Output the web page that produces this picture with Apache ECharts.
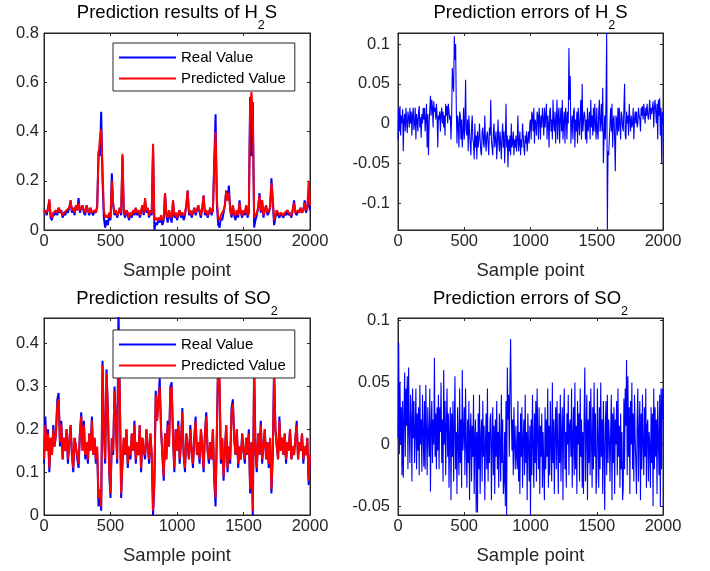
<!DOCTYPE html>
<html>
<head>
<meta charset="utf-8">
<script src="https://cdn.jsdelivr.net/npm/echarts@6/dist/echarts.min.js"></script>
<style>
html,body{margin:0;padding:0;background:#fff;}
#c{width:710px;height:571px;}
</style>
</head>
<body>
<div id="c"></div>
<script>
// ---- data ----
// value series: one value every 10 samples (x = index * 10)
// error series: one value every 5 samples (x = index * 5)
const STEP_VAL = 10;
const STEP_ERR = 5;
const xTicks = [0, 500, 1000, 1500, 2000];

const h2sReal = [
0.07,0.08,0.06,0.09,0.12,0.05,0.04,0.07,0.06,0.08,
0.06,0.09,0.07,0.08,0.05,0.07,0.06,0.08,0.07,0.09,
0.12,0.07,0.09,0.06,0.10,0.08,0.13,0.07,0.09,0.10,
0.07,0.06,0.10,0.08,0.06,0.09,0.07,0.06,0.08,0.07,
0.10,0.32,0.30,0.48,0.20,0.05,0.01,0.04,0.02,0.06,
0.04,0.23,0.10,0.06,0.08,0.05,0.07,0.09,0.06,0.30,
0.07,0.05,0.08,0.06,0.04,0.07,0.05,0.08,0.06,0.09,
0.06,0.08,0.05,0.07,0.10,0.06,0.12,0.07,0.09,0.05,
0.08,0.06,0.34,0.00,0.03,0.02,0.04,0.03,0.05,0.02,
0.04,0.15,0.06,0.03,0.08,0.05,0.03,0.12,0.05,0.07,
0.04,0.06,0.08,0.05,0.07,0.04,0.06,0.10,0.16,0.06,
0.08,0.05,0.07,0.09,0.06,0.08,0.10,0.07,0.05,0.09,
0.14,0.06,0.08,0.05,0.07,0.09,0.06,0.08,0.28,0.47,
0.10,0.02,0.01,0.05,0.04,0.07,0.10,0.16,0.12,0.18,
0.08,0.05,0.10,0.06,0.04,0.08,0.05,0.12,0.07,0.05,
0.08,0.06,0.10,0.05,0.07,0.54,0.30,0.52,0.01,0.04,
0.06,0.09,0.15,0.07,0.12,0.05,0.08,0.10,0.06,0.07,
0.09,0.21,0.12,0.02,0.05,0.08,0.06,0.05,0.07,0.06,
0.05,0.07,0.06,0.08,0.06,0.07,0.05,0.08,0.12,0.07,
0.06,0.08,0.07,0.09,0.07,0.08,0.12,0.07,0.09,0.15,0.08
];
const h2sPred = [
0.08,0.07,0.07,0.08,0.125,0.06,0.05,0.07,0.07,0.08,
0.07,0.09,0.08,0.08,0.06,0.07,0.07,0.08,0.08,0.09,
0.12,0.08,0.09,0.07,0.10,0.08,0.11,0.08,0.09,0.10,
0.08,0.07,0.10,0.08,0.07,0.09,0.07,0.07,0.08,0.07,
0.09,0.30,0.37,0.41,0.25,0.08,0.05,0.06,0.05,0.07,
0.05,0.20,0.11,0.07,0.08,0.06,0.07,0.09,0.07,0.31,
0.08,0.06,0.08,0.07,0.05,0.07,0.06,0.08,0.07,0.09,
0.07,0.08,0.06,0.08,0.10,0.07,0.13,0.08,0.09,0.06,
0.08,0.07,0.35,0.04,0.05,0.04,0.05,0.04,0.06,0.04,
0.05,0.15,0.07,0.05,0.08,0.06,0.05,0.12,0.06,0.07,
0.05,0.07,0.08,0.06,0.07,0.06,0.07,0.10,0.16,0.07,
0.08,0.06,0.07,0.09,0.07,0.08,0.10,0.08,0.06,0.09,
0.14,0.07,0.08,0.06,0.07,0.09,0.07,0.08,0.25,0.40,
0.12,0.05,0.04,0.06,0.06,0.08,0.10,0.16,0.12,0.15,
0.09,0.06,0.10,0.07,0.06,0.08,0.06,0.11,0.07,0.06,
0.08,0.07,0.10,0.06,0.07,0.50,0.56,0.45,0.05,0.06,
0.07,0.09,0.14,0.08,0.12,0.06,0.08,0.10,0.07,0.08,
0.09,0.19,0.13,0.04,0.06,0.08,0.07,0.06,0.07,0.07,
0.06,0.07,0.07,0.08,0.07,0.07,0.06,0.08,0.11,0.07,
0.07,0.08,0.07,0.09,0.07,0.08,0.11,0.08,0.09,0.20,0.10
];
const h2sErr = [
-0.02,0.02,-0.01,0.022,-0.015,0.01,0.0,0.018,-0.035,0.005,0.012,-0.01,0.02,0.003,-0.012,0.015,0.008,-0.005,0.02,0.0,
0.015,-0.015,0.01,0.02,-0.008,0.0,0.02,-0.02,0.012,0.005,-0.01,0.015,0.022,-0.005,0.008,-0.018,0.012,0.0,0.02,0.005,
0.02,-0.01,0.005,0.025,-0.03,0.012,-0.04,0.0,0.018,0.035,0.01,0.03,0.02,-0.005,0.028,0.015,0.02,0.005,0.025,0.01,
-0.03,0.01,0.005,0.015,-0.01,0.012,0.02,0.0,0.015,-0.005,0.01,-0.015,0.025,0.01,0.022,0.0,0.025,0.015,0.005,0.01,
-0.02,0.01,0.07,0.05,0.04,0.11,0.08,0.1,0.02,-0.025,0.01,0.0,-0.03,0.015,0.01,-0.02,0.005,-0.03,-0.01,0.02,
-0.02,0.0,0.055,-0.01,-0.015,0.005,-0.035,0.01,-0.01,-0.025,-0.04,-0.005,0.01,-0.02,-0.025,-0.045,0.0,-0.03,-0.015,-0.045,
-0.01,-0.03,-0.02,0.0,-0.02,-0.035,-0.04,-0.01,-0.005,-0.025,-0.03,0.01,-0.02,-0.035,-0.015,-0.01,-0.025,-0.04,-0.005,-0.015,
0.03,-0.02,-0.03,-0.04,-0.01,0.0,-0.03,-0.02,-0.01,-0.045,-0.025,0.005,-0.02,-0.035,-0.01,-0.025,-0.045,-0.015,0.0,-0.03,
-0.01,-0.05,-0.02,0.025,-0.03,-0.015,-0.055,-0.02,-0.035,-0.015,-0.04,0.0,-0.03,-0.025,-0.01,-0.04,-0.02,-0.03,-0.015,-0.035,
-0.02,0.01,-0.035,-0.025,-0.01,-0.04,-0.02,-0.03,0.0,-0.015,-0.03,-0.04,-0.015,-0.025,-0.01,-0.035,-0.02,-0.01,-0.025,0.0,
0.005,-0.02,0.015,0.01,-0.01,0.02,-0.025,0.005,0.0,-0.015,0.015,0.01,-0.02,0.02,0.005,-0.02,0.01,-0.005,0.02,0.005,
-0.015,0.02,-0.005,0.01,0.025,-0.02,0.01,0.0,-0.03,0.015,0.02,-0.01,0.005,-0.02,0.03,0.0,-0.01,0.015,-0.025,0.005,
0.03,-0.02,0.01,0.02,-0.025,0.005,0.02,-0.01,0.03,-0.02,0.0,0.015,-0.025,0.02,0.01,-0.02,0.015,0.0,0.095,0.03,
0.06,-0.025,0.0,0.01,-0.02,0.015,0.02,-0.03,0.005,-0.01,0.015,-0.025,0.02,0.0,-0.015,0.01,0.03,-0.02,0.05,-0.01,
-0.01,0.015,0.01,-0.02,0.005,-0.025,0.02,-0.01,0.0,0.015,-0.02,0.03,-0.005,0.01,-0.015,0.02,-0.01,0.025,0.0,-0.02,
0.02,-0.01,-0.02,0.015,0.03,-0.01,0.0,0.025,-0.01,0.045,-0.05,-0.052,0.01,-0.02,0.03,0.114,-0.134,-0.035,-0.04,-0.02,
0.0,0.02,-0.01,0.025,-0.03,0.005,0.01,-0.02,-0.06,0.01,0.005,-0.015,0.02,-0.01,0.02,0.0,-0.02,0.015,0.01,-0.005,
-0.01,0.02,0.05,-0.015,-0.02,0.015,0.0,0.01,-0.015,0.025,0.005,-0.01,0.01,-0.005,0.0,0.02,-0.02,0.005,0.015,0.0,
0.015,-0.005,0.0,0.02,0.01,0.005,-0.01,0.02,0.01,0.022,0.005,0.025,0.012,0.0,0.02,0.01,0.025,0.01,0.005,0.018,
0.03,0.005,0.02,0.012,0.01,0.028,-0.005,0.02,0.03,0.015,0.0,0.025,-0.02,0.03,0.01,0.032,-0.015,0.02,-0.05,0.015,
0.0
];
const so2Real = [
0.12,0.23,0.15,0.20,0.10,0.18,0.14,0.21,0.16,0.19,
0.27,0.285,0.16,0.22,0.13,0.18,0.15,0.20,0.12,0.17,
0.21,0.14,0.10,0.18,0.16,0.13,0.11,0.19,0.24,0.15,
0.22,0.13,0.17,0.12,0.19,0.15,0.23,0.14,0.18,0.12,
0.15,0.02,0.05,0.01,0.36,0.20,0.12,0.34,0.25,0.10,
0.04,0.18,0.14,0.30,0.22,0.12,0.48,0.28,0.04,0.12,
0.18,0.14,0.20,0.11,0.16,0.13,0.19,0.15,0.22,0.12,
0.17,0.14,0.21,0.10,0.18,0.15,0.13,0.20,0.16,0.12,
0.19,0.14,0.00,0.07,0.29,0.22,0.27,0.32,0.20,0.14,
0.08,0.19,0.13,0.22,0.16,0.30,0.31,0.18,0.10,0.20,
0.15,0.22,0.12,0.17,0.25,0.14,0.10,0.19,0.16,0.13,
0.21,0.15,0.11,0.18,0.23,0.14,0.17,0.12,0.20,0.16,
0.10,0.19,0.24,0.15,0.12,0.17,0.13,0.20,0.08,0.02,
0.20,0.38,0.30,0.12,0.18,0.08,0.15,0.21,0.10,0.16,
0.12,0.25,0.27,0.18,0.14,0.20,0.11,0.16,0.13,0.19,
0.15,0.12,0.18,0.14,0.20,0.05,0.17,0.00,0.36,0.15,
0.10,0.19,0.14,0.22,0.12,0.16,0.20,0.13,0.17,0.11,
0.18,0.05,0.14,0.35,0.20,0.16,0.13,0.23,0.15,0.18,
0.14,0.19,0.12,0.17,0.15,0.20,0.13,0.16,0.14,0.18,
0.22,0.13,0.17,0.15,0.19,0.12,0.16,0.14,0.18,0.07,0.14
];
const so2Pred = [
0.13,0.21,0.15,0.19,0.11,0.18,0.14,0.20,0.16,0.19,
0.26,0.27,0.17,0.21,0.13,0.18,0.15,0.20,0.13,0.17,
0.21,0.14,0.11,0.18,0.16,0.14,0.12,0.19,0.23,0.15,
0.21,0.14,0.17,0.13,0.19,0.15,0.22,0.14,0.18,0.13,
0.16,0.04,0.06,0.02,0.35,0.21,0.13,0.33,0.25,0.11,
0.05,0.18,0.15,0.29,0.22,0.13,0.40,0.28,0.05,0.13,
0.18,0.14,0.20,0.12,0.16,0.14,0.19,0.15,0.21,0.13,
0.17,0.14,0.21,0.11,0.18,0.15,0.14,0.20,0.16,0.13,
0.19,0.14,0.01,0.08,0.28,0.22,0.26,0.30,0.20,0.14,
0.09,0.19,0.13,0.21,0.16,0.29,0.30,0.18,0.11,0.20,
0.15,0.21,0.13,0.17,0.24,0.14,0.11,0.19,0.16,0.13,
0.20,0.15,0.12,0.18,0.22,0.14,0.17,0.13,0.20,0.16,
0.11,0.19,0.23,0.15,0.13,0.17,0.13,0.20,0.09,0.04,
0.20,0.36,0.32,0.13,0.18,0.09,0.15,0.21,0.11,0.16,
0.13,0.24,0.26,0.18,0.14,0.20,0.12,0.16,0.13,0.19,
0.15,0.13,0.18,0.14,0.19,0.06,0.17,0.01,0.34,0.15,
0.11,0.19,0.14,0.21,0.13,0.16,0.20,0.13,0.17,0.12,
0.18,0.06,0.14,0.33,0.20,0.16,0.13,0.22,0.15,0.18,
0.14,0.19,0.13,0.17,0.15,0.20,0.13,0.16,0.14,0.18,
0.21,0.13,0.17,0.15,0.19,0.13,0.16,0.14,0.18,0.08,0.14
];
const so2Err = [
0.005,0.082,-0.008,0.05,0.0,0.03,-0.025,0.035,-0.027,0.02,0.058,-0.01,0.045,0.015,0.055,-0.02,0.062,0.01,-0.015,0.04,
0.02,-0.03,0.045,0.005,0.035,-0.015,0.01,0.045,-0.02,0.025,-0.005,0.03,-0.025,0.048,0.0,0.02,-0.022,0.04,0.01,-0.018,
0.035,-0.02,0.048,0.01,-0.025,0.03,0.005,-0.01,0.045,-0.038,0.015,0.035,-0.015,0.02,0.0,0.07,-0.01,0.025,-0.02,0.03,
-0.005,0.04,-0.02,0.03,0.01,0.05,-0.015,0.02,-0.03,0.06,0.0,0.035,-0.025,0.015,0.045,-0.01,0.025,-0.035,0.01,0.03,
-0.045,0.025,-0.01,0.035,-0.03,0.015,0.055,-0.02,0.01,-0.04,0.03,0.0,-0.025,0.045,-0.015,0.02,-0.035,0.06,-0.005,0.01,
0.03,-0.025,0.045,0.0,-0.035,0.02,-0.015,0.035,-0.045,0.01,0.025,-0.03,0.015,-0.01,0.04,-0.04,0.005,0.02,-0.055,0.01,
-0.055,0.025,-0.02,0.04,-0.04,0.005,0.02,-0.03,0.035,-0.01,0.015,-0.045,0.0,0.025,-0.02,0.045,-0.03,0.01,-0.015,0.02,
0.025,-0.045,0.0,0.03,-0.025,0.015,-0.04,0.02,-0.01,0.035,-0.02,0.01,-0.035,0.025,0.0,-0.03,0.04,-0.015,0.02,-0.04,
-0.03,0.01,-0.05,0.035,-0.057,0.062,0.02,0.04,-0.01,0.05,0.085,0.03,-0.005,0.02,-0.025,0.03,0.0,-0.02,0.015,-0.01,
-0.02,0.035,-0.03,0.01,-0.04,0.025,-0.01,0.03,-0.035,0.005,0.02,-0.025,0.04,-0.015,0.01,-0.045,0.025,0.0,-0.03,0.015,
-0.057,0.02,-0.025,0.04,0.0,-0.035,0.025,-0.015,0.035,-0.03,0.045,0.005,-0.02,0.03,-0.04,0.015,-0.01,0.025,-0.035,0.01,
0.01,-0.045,0.03,-0.02,0.02,-0.01,0.045,-0.035,0.015,-0.025,0.035,0.0,-0.03,0.05,-0.015,0.02,-0.04,0.01,0.03,-0.02,
0.035,0.0,-0.04,0.025,-0.015,0.04,-0.03,0.01,0.03,-0.045,0.02,0.045,-0.02,0.01,-0.035,0.025,0.0,0.04,-0.025,0.015,
0.02,-0.01,0.045,-0.035,0.005,0.03,-0.025,0.05,-0.02,0.015,-0.04,0.035,0.0,0.025,-0.03,0.045,-0.01,0.02,-0.035,0.01,
-0.04,0.025,0.062,-0.03,0.01,0.04,-0.045,0.02,-0.015,0.035,-0.025,0.045,0.005,-0.035,0.03,-0.02,0.05,-0.01,0.025,-0.04,
-0.025,0.045,0.005,-0.035,0.03,-0.02,0.05,-0.01,0.02,-0.04,0.035,0.0,-0.053,0.015,0.035,-0.025,0.04,-0.015,0.02,0.005,
-0.03,0.01,0.04,-0.045,0.025,-0.015,0.03,-0.04,0.02,0.0,0.035,-0.025,0.045,-0.01,0.015,-0.035,0.025,-0.02,0.01,-0.045,
-0.035,0.037,-0.02,0.045,0.015,0.068,-0.025,0.055,-0.01,0.03,-0.04,0.035,0.0,0.05,-0.02,0.025,-0.03,0.04,0.005,-0.015,
-0.04,0.02,0.045,-0.03,0.01,0.035,-0.045,0.025,-0.02,0.04,0.0,-0.025,0.03,-0.01,0.045,-0.035,0.015,0.02,-0.03,0.01,
0.0,-0.035,0.03,-0.015,0.025,-0.05,0.045,-0.02,0.03,-0.01,0.02,-0.04,0.035,0.005,-0.025,0.04,-0.05,0.045,-0.02,0.045,
0.02
];

// ---- chart ----
const FONT = "'Liberation Sans', Arial, Helvetica, sans-serif";
const AX = '#262626';
const pairs = (arr, step) => arr.map((v, i) => [i * step, v]);

const grids = [
  {left: 44,  top: 33,  width: 266, height: 197},
  {left: 398, top: 33,  width: 265, height: 197},
  {left: 44,  top: 318, width: 266, height: 197},
  {left: 398, top: 318, width: 265, height: 197}
];
const yCfg = [
  {min: 0, max: 0.8, interval: 0.2, step: 0.2, margin: 5},
  {min: -0.134, max: 0.114, splitNumber: 5, step: 0.05, margin: 8},
  {min: 0, max: 0.46, interval: 0.1, step: 0.1, margin: 5},
  {min: -0.057, max: 0.102, splitNumber: 3, step: 0.05, margin: 8}
];
function yfmt(step) {
  return function (v) {
    const k = v / step;
    if (Math.abs(k - Math.round(k)) > 1e-6) return '';
    return String(parseFloat((Math.round(k) * step).toFixed(4)));
  };
}
const xfmt = v => String(Math.round(v));

const xAxis = [], yAxis = [];
grids.forEach((g, i) => {
  xAxis.push({
    type: 'value', gridIndex: i, min: xTicks[0], max: xTicks[xTicks.length - 1], interval: xTicks[1] - xTicks[0], position: 'bottom',
    axisLine: {show: true, onZero: false, lineStyle: {color: AX, width: 1}},
    axisTick: {show: true, inside: true, length: 3, lineStyle: {color: AX}},
    axisLabel: {show: true, margin: 3, color: AX, fontSize: 16.5, fontFamily: FONT, formatter: xfmt},
    splitLine: {show: false},
    name: 'Sample point', nameLocation: 'middle', nameGap: 31,
    nameTextStyle: {color: AX, fontSize: 18.5, fontFamily: FONT}
  });
  const c = yCfg[i];
  const y = {
    type: 'value', gridIndex: i, min: c.min, max: c.max, position: 'left',
    axisLine: {show: true, onZero: false, lineStyle: {color: AX, width: 1}},
    axisTick: {show: true, inside: true, length: 3, lineStyle: {color: AX}},
    axisLabel: {show: true, margin: c.margin, color: AX, fontSize: 16.5, fontFamily: FONT, formatter: yfmt(c.step)},
    splitLine: {show: false}
  };
  if (c.interval) y.interval = c.interval; else y.splitNumber = c.splitNumber;
  yAxis.push(y);
});
grids.forEach((g, i) => {
  xAxis.push({
    type: 'value', gridIndex: i, min: xTicks[0], max: xTicks[xTicks.length - 1], interval: xTicks[1] - xTicks[0], position: 'top',
    axisLine: {show: true, onZero: false, lineStyle: {color: AX, width: 1}},
    axisTick: {show: true, inside: true, length: 3, lineStyle: {color: AX}},
    axisLabel: {show: false}, splitLine: {show: false}
  });
  const c = yCfg[i];
  const y = {
    type: 'value', gridIndex: i, min: c.min, max: c.max, position: 'right',
    axisLine: {show: true, onZero: false, lineStyle: {color: AX, width: 1}},
    axisTick: {show: true, inside: true, length: 3, lineStyle: {color: AX}},
    axisLabel: {show: false}, splitLine: {show: false}
  };
  if (c.interval) y.interval = c.interval; else y.splitNumber = c.splitNumber;
  yAxis.push(y);
});

function lineSeries(name, data, step, idx, color, width) {
  return {
    type: 'line', name: name, data: pairs(data, step), xAxisIndex: idx, yAxisIndex: idx,
    symbol: 'none', showSymbol: false, clip: true,
    lineStyle: {color: color, width: width}, itemStyle: {color: color},
    emphasis: {disabled: true}
  };
}

const series = [
  lineSeries('Real Value', h2sReal, STEP_VAL, 0, '#0000ff', 2),
  lineSeries('Predicted Value', h2sPred, STEP_VAL, 0, '#ff0000', 2),
  lineSeries('H2S error', h2sErr, STEP_ERR, 1, '#0000ff', 1.1),
  lineSeries('Real Value', so2Real, STEP_VAL, 2, '#0000ff', 2),
  lineSeries('Predicted Value', so2Pred, STEP_VAL, 2, '#ff0000', 2),
  lineSeries('SO2 error', so2Err, STEP_ERR, 3, '#0000ff', 1.1)
];

function legendAt(top) {
  return {
    data: ['Real Value', 'Predicted Value'], orient: 'vertical',
    left: 113, top: top, icon: 'rect', itemWidth: 57, itemHeight: 2, itemGap: 6,
    padding: [7, 9, 5, 6],
    backgroundColor: '#fff', borderColor: AX, borderWidth: 1, borderRadius: 0,
    textStyle: {color: '#000', fontSize: 15, fontFamily: FONT},
    selectedMode: false
  };
}

function titleText(x, y, main, sub, tail) {
  return {
    type: 'text', x: x, y: y, z: 10,
    style: {
      text: '{m|' + main + '}{s|' + sub + '}' + (tail ? '{m|' + tail + '}' : ''),
      align: 'center', verticalAlign: 'top',
      rich: {
        m: {fontSize: 18.5, fontFamily: FONT, fill: '#000', lineHeight: 22, verticalAlign: 'top'},
        s: {fontSize: 12.5, fontFamily: FONT, fill: '#000', lineHeight: 12, padding: [16, 0, 0, 0], verticalAlign: 'top'}
      }
    }
  };
}

const chart = echarts.init(document.getElementById('c'), null, {renderer: 'canvas'});
chart.setOption({
  animation: false,
  backgroundColor: '#fff',
  grid: grids.map(g => Object.assign({show: true, borderColor: AX, borderWidth: 1, backgroundColor: '#fff', containLabel: false}, g)),
  xAxis: xAxis,
  yAxis: yAxis,
  legend: [legendAt(43), legendAt(330)],
  series: series,
  graphic: [
    titleText(177, 3, 'Prediction results of H', '2', 'S'),
    titleText(530.5, 3, 'Prediction errors of H', '2', 'S'),
    titleText(177, 289, 'Prediction results of SO', '2', ''),
    titleText(530.5, 289, 'Prediction errors of SO', '2', '')
  ]
});
</script>
</body>
</html>
